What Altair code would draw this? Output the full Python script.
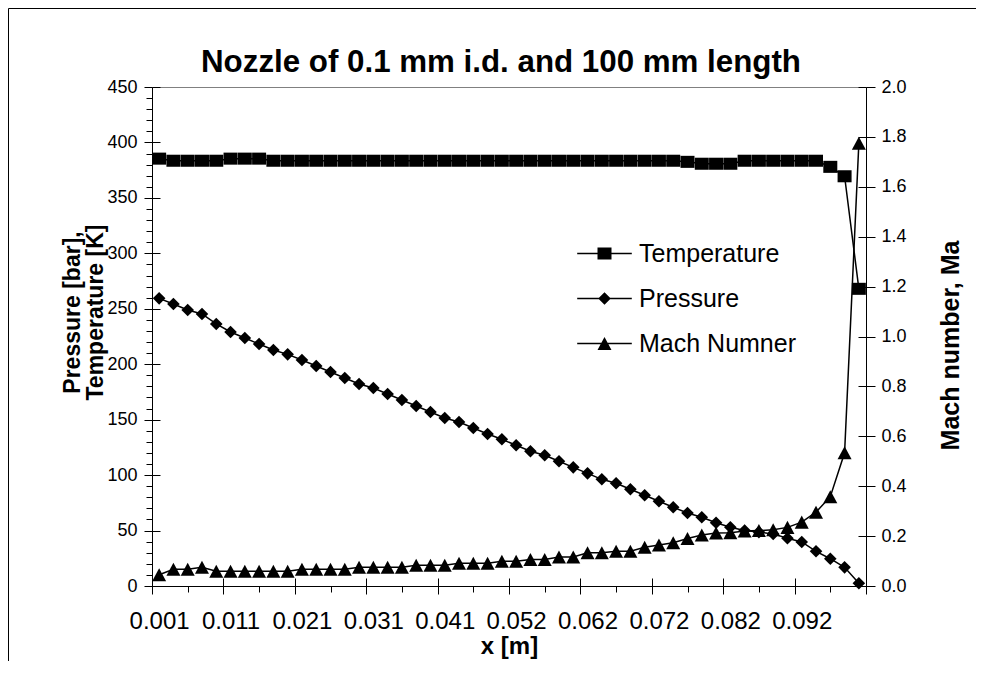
import json
import altair as alt
import pandas as pd

# ---------------- data ----------------
x_tick_labels = ["0.001", "0.011", "0.021", "0.031", "0.041",
                 "0.052", "0.062", "0.072", "0.082", "0.092"]

temperature = [385.4, 383.5, 383.5, 383.5, 383.5, 385.4, 385.4, 385.4, 383.5, 383.5,
               383.5, 383.5, 383.5, 383.5, 383.5, 383.5, 383.5, 383.5, 383.5, 383.5,
               383.5, 383.5, 383.5, 383.5, 383.5, 383.5, 383.5, 383.5, 383.5, 383.5,
               383.5, 383.5, 383.5, 383.5, 383.5, 383.5, 383.5, 382.5, 380.8, 380.8,
               380.8, 383.5, 383.5, 383.5, 383.5, 383.5, 383.5, 378.0, 369.5, 268.0]

pressure = [259.4, 254.3, 248.9, 245.3, 236.3, 229.1, 223.6, 218.2, 212.8, 208.9,
            203.8, 198.4, 193.0, 187.6, 182.2, 178.5, 173.1, 167.7, 162.3, 156.9,
            151.5, 147.9, 142.5, 137.1, 132.3, 126.9, 121.5, 117.9, 112.5, 107.0,
            101.6, 96.2, 92.6, 87.2, 81.8, 76.4, 71.0, 65.8, 62.0, 57.1,
            53.0, 50.0, 48.6, 47.0, 43.0, 39.7, 31.3, 24.6, 16.8, 2.5]

mach = [0.045, 0.067, 0.067, 0.075, 0.059, 0.059, 0.059, 0.059, 0.059, 0.059,
        0.067, 0.067, 0.067, 0.067, 0.075, 0.075, 0.075, 0.075, 0.083, 0.083,
        0.083, 0.091, 0.091, 0.091, 0.099, 0.099, 0.106, 0.106, 0.116, 0.116,
        0.133, 0.133, 0.139, 0.139, 0.155, 0.164, 0.173, 0.190, 0.204, 0.212,
        0.213, 0.220, 0.222, 0.225, 0.235, 0.256, 0.296, 0.358, 0.534, 1.775]

series_names = ["Temperature", "Pressure", "Mach Numner"]
chart_title = "Nozzle of 0.1 mm i.d. and 100 mm length"

left_major = [0, 50, 100, 150, 200, 250, 300, 350, 400, 450]
right_major = [0.0, 0.2, 0.4, 0.6, 0.8, 1.0, 1.2, 1.4, 1.6, 1.8, 2.0]

# ---------------- build ----------------
n = len(temperature)
idx = list(range(n))
df = pd.DataFrame({"idx": idx, "temperature": temperature,
                   "pressure": pressure, "mach": mach})

FONT = "Liberation Sans"
W, H = 714, 499

label_values = list(range(0, n, 5))
label_expr = json.dumps(x_tick_labels) + "[round(datum.value/5)]"
major_x = [i - 0.5 for i in range(0, n + 1, 5)]
minor_x = [i + 2 for i in range(0, n, 5)]
left_minor = [v for v in range(0, 451, 10) if v % 50]

x_scale = alt.Scale(domain=[-0.5, n - 0.5], nice=False, zero=False)
l_scale = alt.Scale(domain=[0, 450], nice=False, zero=False)
r_scale = alt.Scale(domain=[0, 2.0], nice=False, zero=False)

SQUARE = "M-1,-0.86H1V0.86H-1Z"
DIAMOND = "M0,-0.9L0.9,0L0,0.9L-0.9,0Z"
TRIANGLE = "M0,-0.93L1,0.93L-1,0.93Z"
LINE = "M-3.9,-0.1H3.9V0.1H-3.9Z"
legend_paths = [LINE + SQUARE, LINE + DIAMOND, LINE + TRIANGLE]

common = dict(labelFont=FONT, labelColor="black", titleFont=FONT,
              titleColor="black", grid=False)
tick_only = dict(labels=False, domain=False, title=None, grid=False,
                 tickColor="black", tickWidth=1)

base = alt.Chart(df)
x_none = alt.X("idx:Q", scale=x_scale, axis=None)
one = pd.DataFrame({"k": [0]})

# frame of the chart area (top and left edges)
frame_top = alt.Chart(one).mark_rule(color="black", strokeWidth=1).encode(
    x=alt.value(-143.5), x2=alt.value(W + 110), y=alt.value(-78.5))
frame_left = alt.Chart(one).mark_rule(color="black", strokeWidth=1).encode(
    x=alt.value(-143.5), y=alt.value(-78.5), y2=alt.value(H + 80))

# chart title as text
title_text = alt.Chart(one).mark_text(
    text=chart_title, font=FONT, fontSize=31.3, fontWeight="bold",
    color="black", align="center", baseline="alphabetic"
).encode(x=alt.value(349), y=alt.value(-15))

# axis-only layers (ticks crossing the axis lines, minor ticks)
ticks_major = base.mark_point(opacity=0).encode(
    x=alt.X("idx:Q", scale=x_scale,
            axis=alt.Axis(orient="bottom", values=major_x, tickSize=16,
                          offset=-8, **tick_only)),
    y=alt.Y("temperature:Q", scale=l_scale,
            axis=alt.Axis(orient="left", values=left_major, tickSize=8,
                          offset=-8, **tick_only)),
)
ticks_minor = base.mark_point(opacity=0).encode(
    x=alt.X("idx:Q", scale=x_scale,
            axis=alt.Axis(orient="bottom", values=minor_x, tickSize=6,
                          **tick_only)),
    y=alt.Y("temperature:Q", scale=l_scale,
            axis=alt.Axis(orient="left", values=left_minor, tickSize=6,
                          **tick_only)),
)
ticks_right = base.mark_point(opacity=0).encode(
    x=x_none,
    y=alt.Y("mach:Q", scale=r_scale,
            axis=alt.Axis(orient="right", values=right_major, tickSize=8,
                          offset=-8, **tick_only)),
)

t_line = base.mark_line(color="black", strokeWidth=1.5).encode(
    x=alt.X("idx:Q", scale=x_scale,
            axis=alt.Axis(orient="bottom", values=label_values,
                          labelExpr=label_expr, ticks=False, tickSize=0,
                          domainColor="black", domainWidth=1,
                          labelFontSize=24, labelPadding=23, labelAngle=0,
                          labelFlush=False, labelOverlap=False,
                          title="x [m]", titleFontSize=24,
                          titleFontWeight="bold", titleBaseline="top",
                          titleY=48, **common)),
    y=alt.Y("temperature:Q", scale=l_scale,
            axis=alt.Axis(orient="left", values=left_major, tickSize=8,
                          tickColor="black", domainColor="black",
                          domainWidth=1, labelFontSize=18, labelPadding=7,
                          labelFlush=False,
                          title=["Pressure [bar],", "Temperature [K]"],
                          titleFontSize=23, titleFontWeight="bold",
                          titleAngle=-90, titleAlign="center",
                          titleBaseline="middle", titleX=-80, titleY=225,
                          titleLineHeight=23, **common)),
)
t_pts = base.mark_point(shape=SQUARE, size=196, filled=True, color="black",
                        opacity=1).encode(
    x=x_none, y=alt.Y("temperature:Q", scale=l_scale, axis=None))

p_line = base.mark_line(color="black", strokeWidth=1.5).encode(
    x=x_none, y=alt.Y("pressure:Q", scale=l_scale, axis=None))
p_pts = base.mark_point(shape=DIAMOND, size=196, filled=True, color="black",
                        opacity=1).encode(
    x=x_none, y=alt.Y("pressure:Q", scale=l_scale, axis=None))

m_line = base.mark_line(color="black", strokeWidth=1.5).encode(
    x=x_none,
    y=alt.Y("mach:Q", scale=r_scale,
            axis=alt.Axis(orient="right", values=right_major, tickSize=9,
                          tickColor="black", domainColor="black",
                          domainWidth=1, labelFontSize=18, labelPadding=6,
                          labelFlush=False, format=".1f",
                          title="Mach number, Ma", titleFontSize=25,
                          titleFontWeight="bold", titleAngle=-90,
                          titleAlign="center", titleBaseline="middle",
                          titleX=84, titleY=258, **common)),
)
m_pts = base.mark_point(shape=TRIANGLE, size=196, filled=True, color="black",
                        opacity=1).encode(
    x=x_none, y=alt.Y("mach:Q", scale=r_scale, axis=None))

legend_layer = alt.Chart(pd.DataFrame({"series": series_names})).transform_filter(
    "false"
).mark_point(fill="black", stroke="black", strokeWidth=1.5, opacity=1).encode(
    shape=alt.Shape("series:N",
                    scale=alt.Scale(domain=series_names, range=legend_paths),
                    legend=alt.Legend(title=None, orient="none", legendX=440,
                                      legendY=154, symbolSize=196,
                                      symbolFillColor="black",
                                      symbolStrokeColor="black",
                                      symbolStrokeWidth=1.5, symbolOpacity=1,
                                      labelFont=FONT, labelFontSize=25,
                                      labelColor="black", labelOffset=22,
                                      rowPadding=19, padding=0))
)

chart = alt.layer(
    frame_top, frame_left, title_text, ticks_major, ticks_minor, ticks_right,
    t_line, p_line, m_line, t_pts, p_pts, m_pts, legend_layer
).resolve_scale(
    y="independent"
).resolve_axis(
    x="independent", y="independent"
).properties(
    width=W, height=H,
    autosize=alt.AutoSizeParams(type="none"),
    padding={"left": 144, "top": 79, "right": 110, "bottom": 75},
    background="white",
).configure_view(stroke="#808080", strokeWidth=1)

chart.save("out.html", embed_options={"renderer": "svg", "actions": False})
